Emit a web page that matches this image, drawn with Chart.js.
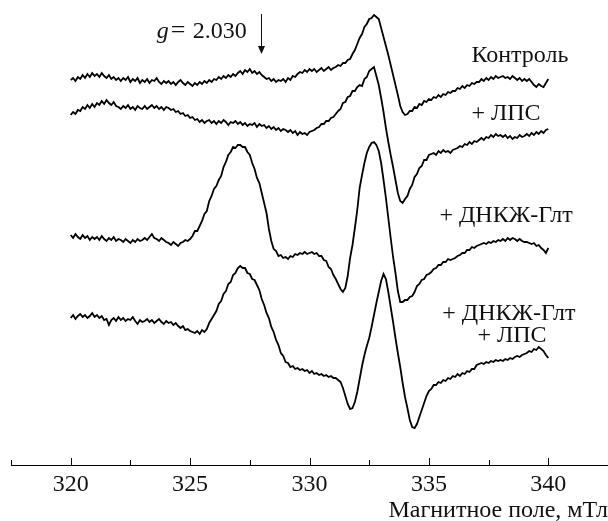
<!DOCTYPE html>
<html><head><meta charset="utf-8">
<script src="https://cdn.jsdelivr.net/npm/chart.js@4.4.1/dist/chart.umd.min.js"></script>
<style>html,body{margin:0;padding:0;background:#fff;}canvas{display:block;}</style>
</head><body>
<canvas id="c" width="608" height="521"></canvas>
<script>
// Magnetic field sampling (mT)
const fieldStart = 320.0;
const fieldStep = 0.1;
const majorTicks = [320, 325, 330, 335, 340];
const minorTicks = [317.5, 322.5, 327.5, 332.5, 337.5, 342.5];
const seriesNames = ['Контроль', '+ ЛПС', '+ ДНКЖ-Глт', '+ ДНКЖ-Глт + ЛПС'];
const seriesOffsets = [385, 352, 228, 147];

const control = [0,2,-1,3,1,5,2,6,3,7,4,
6,3,7,4,2,5,1,3,0,2,
-1,2,0,3,-2,1,-1,2,-3,0,
-2,1,-3,0,-1,2,-2,-4,-1,-3,
-1,-4,-2,-5,-2,0,-3,-5,-2,-4,
-6,-3,-5,-2,-4,-1,-3,0,-2,1,
0,3,1,4,2,5,3,6,4,7,
9,6,10,8,11,7,9,6,8,5,
3,1,2,-1,1,-2,0,-1,1,-2,
2,0,4,3,6,8,7,10,8,11,
9,11,8,10,12,9,11,13,10,12,
13,15,14,17,17,20,21,26,30,36,
42,46,53,56,61,62,65,63,61,52,
43,34,25,15,5,-5,-15,-26,-32,-35,
-34,-31,-31,-27,-28,-24,-25,-21,-22,-19,
-20,-17,-18,-15,-17,-14,-15,-12,-13,-11,
-11,-8,-9,-6,-8,-5,-6,-3,-4,-2,
-2,1,-1,2,0,3,1,4,2,3,
4,2,3,1,4,2,0,2,-1,1,
-1,1,-2,-5,-7,-4,-6,-7,-3,1];

const lps = [-2,1,-1,3,2,6,4,8,5,9,6,
10,8,12,9,13,10,8,11,7,6,
4,7,5,8,4,6,3,7,5,4,
7,4,6,8,5,7,4,6,3,6,
5,3,4,1,2,-1,0,-3,-2,-5,
-4,-7,-6,-9,-7,-10,-8,-7,-10,-8,
-11,-8,-10,-7,-9,-12,-9,-10,-8,-11,
-9,-12,-10,-13,-11,-12,-10,-14,-11,-13,
-12,-15,-13,-16,-14,-17,-15,-18,-16,-17,
-19,-17,-20,-18,-22,-19,-21,-20,-22,-19,
-18,-17,-15,-14,-11,-11,-8,-8,-5,-4,
-1,2,4,10,11,16,17,22,22,26,
28,27,34,36,42,44,46,37,28,15,
1,-15,-29,-42,-54,-67,-80,-88,-90,-86,
-83,-76,-72,-64,-61,-55,-53,-47,-47,-42,
-41,-40,-42,-38,-40,-37,-39,-38,-40,-37,
-36,-35,-33,-34,-31,-32,-29,-31,-28,-29,
-27,-25,-27,-24,-25,-22,-24,-21,-23,-22,
-24,-22,-25,-23,-26,-24,-25,-22,-24,-23,
-21,-23,-20,-22,-19,-21,-18,-20,-17,-16];

const dnic = [2,-1,3,0,-2,2,-1,1,-3,0,-2,
0,-3,1,-2,-4,-1,-3,0,-4,-2,
-3,-5,-2,-4,-6,-3,-5,-2,-4,-3,
-1,-3,0,3,-1,-2,-4,-1,-3,-5,
-6,-8,-5,-7,-9,-6,-5,-3,-4,-2,
1,6,6,11,16,23,26,36,41,48,
51,57,61,70,75,82,85,90,89,92,
92,90,90,85,82,74,68,59,54,44,
34,24,8,-4,-12,-14,-19,-18,-21,-20,
-22,-19,-20,-17,-18,-16,-17,-15,-17,-16,
-15,-17,-16,-19,-19,-23,-24,-30,-32,-38,
-42,-47,-52,-55,-51,-39,-21,-8,9,27,
49,62,74,84,90,94,95,92,86,74,
57,39,19,-1,-20,-36,-54,-65,-65,-63,
-63,-60,-59,-55,-49,-47,-43,-42,-38,-37,
-35,-32,-31,-28,-28,-25,-25,-22,-23,-22,
-21,-19,-18,-16,-16,-13,-13,-10,-11,-9,
-8,-7,-6,-7,-5,-6,-4,-5,-3,-4,
-2,-4,-1,-3,-1,-2,-4,-2,-4,-5,
-5,-6,-7,-6,-9,-8,-11,-13,-16,-11];

const dnicLps = [0,3,-1,2,4,1,3,0,2,5,1,
3,0,2,-2,-1,-7,-2,0,-3,1,
-2,0,-3,-1,-2,1,-3,-6,-2,-4,
-3,-1,-4,-2,-5,-3,-1,-4,-6,-3,
-5,-4,-7,-5,-8,-10,-8,-12,-11,-13,
-14,-15,-13,-16,-12,-14,-11,-5,-1,3,
7,14,17,24,27,34,36,43,45,50,
52,50,50,45,44,39,38,33,28,19,
13,5,0,-9,-14,-22,-27,-35,-38,-44,
-45,-49,-48,-51,-50,-52,-51,-53,-52,-55,
-53,-56,-55,-57,-56,-58,-57,-59,-58,-60,
-60,-62,-64,-70,-78,-86,-91,-90,-84,-74,
-61,-48,-37,-28,-20,-9,3,15,26,37,
44,39,26,11,-4,-20,-35,-49,-65,-79,
-90,-102,-109,-110,-106,-99,-92,-85,-78,-73,
-71,-67,-67,-64,-65,-62,-63,-60,-61,-58,
-59,-56,-58,-55,-56,-53,-54,-51,-51,-47,
-46,-45,-46,-44,-45,-43,-44,-42,-43,-42,
-43,-41,-42,-40,-41,-39,-38,-39,-37,-36,
-35,-33,-34,-31,-32,-29,-31,-33,-37,-40];

const allSeries = [control, lps, dnic, dnicLps];

// Text annotations (field in mT, level in plot units)
const annotations = [
  {text: 'Контроль', x: 336.78, y: 403},
  {text: '+ ЛПС', x: 336.78, y: 345},
  {text: '+ ДНКЖ-Глт', x: 335.44, y: 243},
  {text: '+ ДНКЖ-Глт', x: 335.56, y: 145},
  {text: '+ ЛПС', x: 337.03, y: 123}
];
const gMarker = {field: 327.95, top: 451, bottom: 411, labelX: 323.6, labelY: 427};

const FONT = '"Liberation Serif", "Times New Roman", serif';

const datasets = allSeries.map((arr, k) => ({
  label: seriesNames[k],
  data: arr.map((v, i) => ({x: Math.round((fieldStart + i * fieldStep) * 10) / 10, y: seriesOffsets[k] + v})),
  borderColor: '#000',
  borderWidth: 1.8,
  pointRadius: 0,
  tension: 0,
  fill: false
}));

const decor = {
  id: 'decor',
  afterDraw(chart) {
    const {ctx} = chart;
    const x = chart.scales.x, y = chart.scales.y;
    const axisY = x.top;
    ctx.save();
    ctx.strokeStyle = '#000';
    ctx.lineWidth = 1;
    majorTicks.forEach(v => {
      const px = Math.round(x.getPixelForValue(v)) + 0.5;
      ctx.beginPath(); ctx.moveTo(px, axisY); ctx.lineTo(px, axisY - 7); ctx.stroke();
    });
    minorTicks.forEach(v => {
      const px = Math.round(x.getPixelForValue(v)) + 0.5;
      ctx.beginPath(); ctx.moveTo(px, axisY); ctx.lineTo(px, axisY - 5); ctx.stroke();
    });
    ctx.fillStyle = '#111';
    ctx.textBaseline = 'alphabetic';
    ctx.textAlign = 'left';
    ctx.font = '24px ' + FONT;
    annotations.forEach(a => ctx.fillText(a.text, x.getPixelForValue(a.x), y.getPixelForValue(a.y)));
    // g marker
    const gx = x.getPixelForValue(gMarker.labelX), gy = y.getPixelForValue(gMarker.labelY);
    ctx.font = 'italic 24px ' + FONT;
    ctx.fillText('g', gx, gy);
    ctx.font = '26px ' + FONT;
    ctx.fillText('=', gx + 14, gy);
    ctx.font = '24px ' + FONT;
    ctx.fillText('2.030', gx + 36, gy);
    const ax = Math.round(x.getPixelForValue(gMarker.field)) + 0.5;
    const at = y.getPixelForValue(gMarker.top), ab = y.getPixelForValue(gMarker.bottom);
    ctx.strokeStyle = '#111';
    ctx.beginPath(); ctx.moveTo(ax, at); ctx.lineTo(ax, ab - 7); ctx.stroke();
    ctx.beginPath(); ctx.moveTo(ax - 3.5, ab - 8); ctx.lineTo(ax + 3.5, ab - 8); ctx.lineTo(ax, ab); ctx.closePath(); ctx.fill();
    ctx.restore();
  }
};

new Chart(document.getElementById('c'), {
  type: 'line',
  data: {datasets},
  options: {
    responsive: false,
    animation: false,
    devicePixelRatio: 1,
    layout: {padding: {left: 11, right: 0, top: 0, bottom: 0}},
    plugins: {legend: {display: false}, tooltip: {enabled: false}},
    scales: {
      x: {
        type: 'linear', min: 317.5, max: 342.5,
        grid: {display: false, drawTicks: false},
        border: {display: true, color: '#000', width: 1},
        afterBuildTicks: s => { s.ticks = majorTicks.map(v => ({value: v})); },
        afterFit: s => { s.height = 56; },
        ticks: {font: {family: FONT, size: 24}, color: '#111', padding: 5, maxRotation: 0, autoSkip: false},
        title: {display: true, text: 'Магнитное поле, мТл', align: 'end', color: '#111',
                font: {family: FONT, size: 24, lineHeight: 1}, padding: {top: 0, bottom: -2}}
      },
      y: {display: false, min: 0, max: 465}
    }
  },
  plugins: [decor]
});
</script>
</body></html>
